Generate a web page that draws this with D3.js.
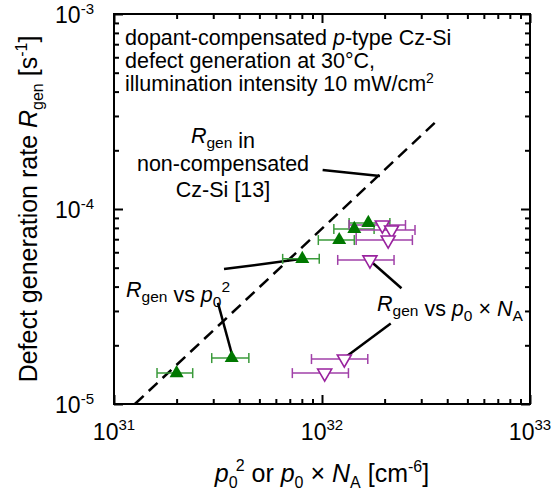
<!DOCTYPE html>
<html><head><meta charset="utf-8">
<script src="https://cdn.jsdelivr.net/npm/d3@7"></script>
<style>body{margin:0;background:#fff} svg{display:block} text{font-family:"Liberation Sans",Arial,sans-serif;fill:#000}</style>
</head><body><svg id="c" width="555" height="499"></svg>
<script>
// ---- data ----
const xMajor = [1e31, 1e32, 1e33];
const xMajorExp = ["31", "32", "33"];
const yMajor = [1e-5, 1e-4, 1e-3];
const yMajorExp = ["-5", "-4", "-3"];

// R_gen vs p0^2 (green, filled up-triangles)
const greenX   = [2.0e31, 3.68e31, 8.04e31, 1.21e32, 1.43e32, 1.67e32];
const greenY   = [1.44e-5, 1.72e-5, 5.55e-5, 6.93e-5, 7.9e-5, 8.48e-5];
const greenXLo = [1.61e31, 2.95e31, 6.47e31, 9.6e31, 1.14e32, 1.35e32];
const greenXHi = [2.39e31, 4.45e31, 9.7e31, 1.43e32, 1.78e32, 2.12e32];

// R_gen vs p0 x NA (purple, open down-triangles)
const purpleX   = [1.95e32, 2.16e32, 2.08e32, 1.70e32, 1.28e32, 1.03e32];
const purpleY   = [8.28e-5, 7.8e-5, 6.93e-5, 5.48e-5, 1.70e-5, 1.44e-5];
const purpleXLo = [1.35e32, 1.46e32, 1.46e32, 1.19e32, 8.9e31, 7.2e31];
const purpleXHi = [2.52e32, 2.8e32, 2.72e32, 2.22e32, 1.66e32, 1.34e32];

// reference line: non-compensated Cz-Si [13]
const refX = [1.26e31, 3.6e32];
const refY = [1.0e-5, 2.86e-4];

// leader lines [x1,y1,x2,y2] in data units
const leaders = [
  [1.007e32, 1.585e-4, 1.9e32, 1.476e-4],
  [3.38e31, 4.92e-5, 8.04e31, 5.55e-5],
  [3.16e31, 3.30e-5, 3.69e31, 1.80e-5],
  [2.41e32, 3.92e-5, 1.71e32, 5.41e-5],
  [2.14e32, 2.59e-5, 1.29e32, 1.73e-5]
];

// ---- drawing ----
const svg = d3.select("#c");
const L = 114, R = 530, T = 14, B = 404;
const x = d3.scaleLog().domain([1e31, 1e33]).range([L, R]);
const y = d3.scaleLog().domain([1e-5, 1e-3]).range([B, T]);

const minor = (lo, hi) => { const a = []; for (let e = lo; e < hi; e++) for (let m = 2; m <= 9; m++) a.push(m * Math.pow(10, e)); return a; };
const xMinor = minor(31, 33), yMinor = minor(-5, -3);

function ax(gen, vals, size, tr) {
  const g = svg.append("g").attr("transform", tr)
    .call(gen.tickValues(vals).tickSize(size).tickFormat(""));
  g.select(".domain").remove();
  g.selectAll("line").attr("stroke", "#000").attr("stroke-width", 2);
}
ax(d3.axisBottom(x), xMajor, -9, `translate(0,${B})`);
ax(d3.axisBottom(x), xMinor, -5, `translate(0,${B})`);
ax(d3.axisTop(x), xMajor, -9, `translate(0,${T})`);
ax(d3.axisTop(x), xMinor, -5, `translate(0,${T})`);
ax(d3.axisLeft(y), yMajor, -9, `translate(${L},0)`);
ax(d3.axisLeft(y), yMinor, -5, `translate(${L},0)`);
ax(d3.axisRight(y), yMajor, -9, `translate(${R},0)`);
ax(d3.axisRight(y), yMinor, -5, `translate(${R},0)`);

svg.append("rect").attr("x", L).attr("y", T).attr("width", R - L).attr("height", B - T)
  .attr("fill", "none").attr("stroke", "#000").attr("stroke-width", 2);

// tick labels
xMajor.forEach((v, i) => {
  const t = svg.append("text").attr("x", x(v)).attr("y", 440).attr("text-anchor", "middle").attr("font-size", 23);
  t.append("tspan").text("10");
  t.append("tspan").attr("font-size", 15).attr("dy", -10).text(xMajorExp[i]);
});
yMajor.forEach((v, i) => {
  const t = svg.append("text").attr("x", 94).attr("y", y(v) + 9).attr("text-anchor", "end").attr("font-size", 23);
  t.append("tspan").text("10");
  t.append("tspan").attr("font-size", 15).attr("dy", -9).text(yMajorExp[i]);
});

// axis titles
{
  const t = svg.append("text").attr("x", 322).attr("y", 482).attr("text-anchor", "middle").attr("font-size", 25);
  t.append("tspan").attr("font-style", "italic").text("p");
  t.append("tspan").attr("font-size", 16).attr("dy", 6).text("0");
  t.append("tspan").attr("font-size", 16).attr("dy", -17).attr("dx", -2).text("2");
  t.append("tspan").attr("dy", 11).text(" or ");
  t.append("tspan").attr("font-style", "italic").text("p");
  t.append("tspan").attr("font-size", 16).attr("dy", 6).text("0");
  t.append("tspan").attr("dy", -6).text(" \u00d7 ");
  t.append("tspan").attr("font-style", "italic").text("N");
  t.append("tspan").attr("font-size", 16).attr("dy", 6).text("A");
  t.append("tspan").attr("dy", -6).text(" [cm");
  t.append("tspan").attr("font-size", 16).attr("dy", -10).text("-6");
  t.append("tspan").attr("dy", 10).text("]");
}
{
  const t = svg.append("text").attr("transform", `translate(37,${(T + B) / 2}) rotate(-90)`)
    .attr("text-anchor", "middle").attr("font-size", 25);
  t.append("tspan").text("Defect generation rate ");
  t.append("tspan").attr("font-style", "italic").text("R");
  t.append("tspan").attr("font-size", 16).attr("dy", 6).text("gen");
  t.append("tspan").attr("dy", -6).text(" [s");
  t.append("tspan").attr("font-size", 16).attr("dy", -10).text("-1");
  t.append("tspan").attr("dy", 10).text("]");
}

// reference dashed line
svg.append("path")
  .attr("d", d3.line()(refX.map((v, i) => [x(v), y(refY[i])])))
  .attr("stroke", "#000").attr("stroke-width", 2.5).attr("stroke-dasharray", "12,7").attr("fill", "none");

// leader lines
svg.selectAll("line.ld").data(leaders).enter().append("line").attr("class", "ld")
  .attr("x1", d => x(d[0])).attr("y1", d => y(d[1])).attr("x2", d => x(d[2])).attr("y2", d => y(d[3]))
  .attr("stroke", "#000").attr("stroke-width", 2.5);

// error bars
function errBars(X, Y, Lo, Hi, col) {
  const g = svg.append("g").attr("stroke", col).attr("stroke-width", 1.5).attr("fill", "none");
  X.forEach((v, i) => {
    const yy = y(Y[i]);
    g.append("line").attr("x1", x(Lo[i])).attr("x2", x(Hi[i])).attr("y1", yy).attr("y2", yy);
    g.append("line").attr("x1", x(Lo[i])).attr("x2", x(Lo[i])).attr("y1", yy - 5).attr("y2", yy + 5);
    g.append("line").attr("x1", x(Hi[i])).attr("x2", x(Hi[i])).attr("y1", yy - 5).attr("y2", yy + 5);
  });
}
errBars(greenX, greenY, greenXLo, greenXHi, "#3a9a3a");
errBars(purpleX, purpleY, purpleXLo, purpleXHi, "#a040a8");

const tri = d3.symbol(d3.symbolTriangle).size(85)();
svg.selectAll("path.g").data(greenX).enter().append("path")
  .attr("d", tri).attr("transform", (d, i) => `translate(${x(d)},${y(greenY[i])})`)
  .attr("fill", "#007800");
svg.selectAll("path.p").data(purpleX).enter().append("path")
  .attr("d", tri).attr("transform", (d, i) => `translate(${x(d)},${y(purpleY[i])}) rotate(180)`)
  .attr("fill", "#fff").attr("stroke", "#99229e").attr("stroke-width", 1.6);

// annotations
const A = 21.5, S = 15.5;
function rgen(t) {
  t.append("tspan").attr("font-style", "italic").text("R");
  t.append("tspan").attr("font-size", S).attr("dy", 5).text("gen");
  t.append("tspan").attr("dy", -5);
}
{
  const t = svg.append("text").attr("x", 125).attr("y", 45).attr("font-size", A);
  t.append("tspan").text("dopant-compensated ");
  t.append("tspan").attr("font-style", "italic").text("p");
  t.append("tspan").text("-type Cz-Si");
  svg.append("text").attr("x", 125).attr("y", 68).attr("font-size", A).text("defect generation at 30\u00b0C,");
  const t3 = svg.append("text").attr("x", 125).attr("y", 91).attr("font-size", A);
  t3.append("tspan").text("illumination intensity 10 mW/cm");
  t3.append("tspan").attr("font-size", 14).attr("dy", -8).text("2");
}
{
  const t = svg.append("text").attr("x", 223).attr("y", 143).attr("text-anchor", "middle").attr("font-size", A);
  rgen(t);
  t.append("tspan").text(" in");
  svg.append("text").attr("x", 223).attr("y", 171).attr("text-anchor", "middle").attr("font-size", A).text("non-compensated");
  svg.append("text").attr("x", 223).attr("y", 197).attr("text-anchor", "middle").attr("font-size", A).text("Cz-Si [13]");
}
{
  const t = svg.append("text").attr("x", 126).attr("y", 297).attr("font-size", A);
  rgen(t);
  t.append("tspan").text(" vs ");
  t.append("tspan").attr("font-style", "italic").text("p");
  t.append("tspan").attr("font-size", S).attr("dy", 5).text("0");
  t.append("tspan").attr("font-size", S).attr("dy", -15).text("2");
}
{
  const t = svg.append("text").attr("x", 377).attr("y", 311).attr("font-size", A);
  rgen(t);
  t.append("tspan").text(" vs ");
  t.append("tspan").attr("font-style", "italic").text("p");
  t.append("tspan").attr("font-size", S).attr("dy", 5).text("0");
  t.append("tspan").attr("dy", -5).text(" \u00d7 ");
  t.append("tspan").attr("font-style", "italic").text("N");
  t.append("tspan").attr("font-size", S).attr("dy", 5).text("A");
}
</script></body></html>
